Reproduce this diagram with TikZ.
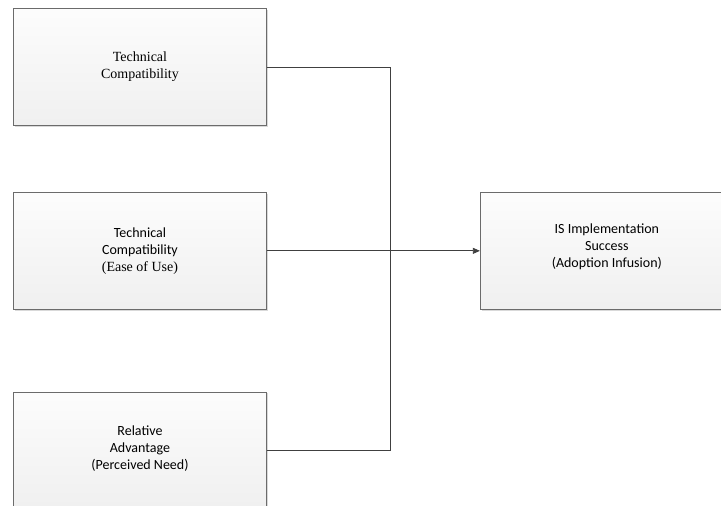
\documentclass[tikz,border=0pt]{standalone}
\usepackage{fontspec}
\setmainfont{Liberation Serif}
\newfontfamily\calibri{Carlito}
\usetikzlibrary{positioning}
\usetikzlibrary{arrows.meta}
\usetikzlibrary{shadows}

\begin{document}
\begin{tikzpicture}[
    factor/.style={%
        draw=black!58, line width=0.9pt,
        top color=gray!2, bottom color=gray!12,
        drop shadow={shadow xshift=1.2pt, shadow yshift=-1.2pt, opacity=0.3},
        minimum width=253pt, minimum height=117pt,
        align=center, font=\fontsize{14}{17}\selectfont},
    link/.style={draw=black!75, line width=0.8pt},
    arrow/.style={link, -{Triangle[length=7pt,width=6pt]}},
]
    \useasboundingbox (0,0) rectangle (721pt,-506pt);
    \clip (0,0) rectangle (721pt,-506pt);

    % Factors
    \node[factor, anchor=north west] (tc) at (13pt,-8pt) {Technical\\Compatibility};
    \node[factor, below=66pt of tc] (tcu) {{\calibri Technical}\\{\calibri Compatibility}\\(Ease of Use)};
    \node[factor, below=82pt of tcu] (ra) {\calibri Relative\\\calibri Advantage\\\calibri (Perceived Need)\\[-11pt]};

    % Outcome
    \node[factor, right=213pt of tcu] (is) {\calibri IS Implementation\\\calibri Success\\\calibri (Adoption Infusion)\\[-6pt]};

    % Connectors
    \coordinate[right=123pt of tc.east] (bus);
    \draw[link] (tc.east) -- (bus) |- (ra.east);
    \draw[arrow] (tcu.east) -- (is.west);
\end{tikzpicture}
\end{document}
